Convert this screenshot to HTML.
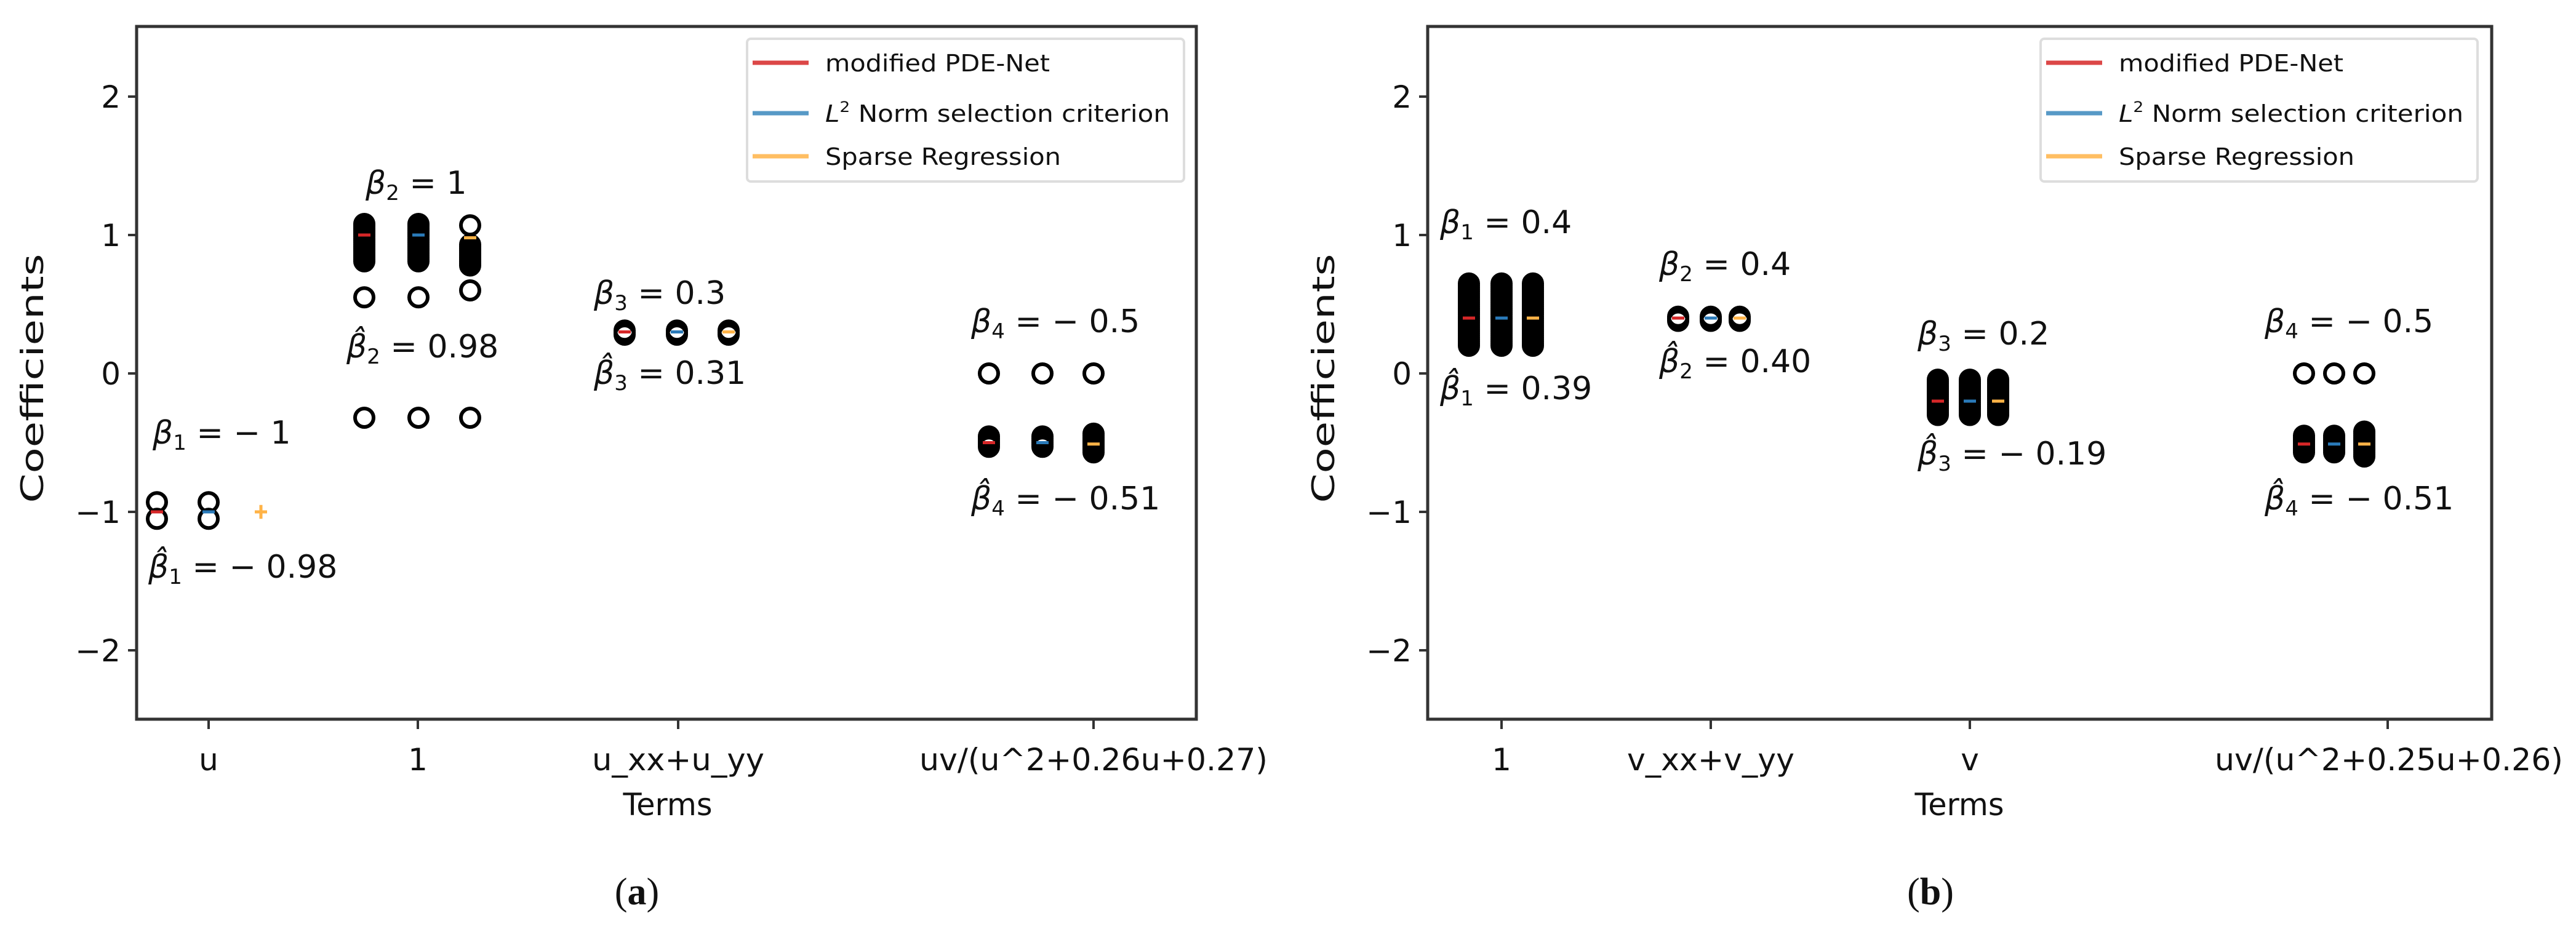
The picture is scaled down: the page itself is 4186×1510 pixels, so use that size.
<!DOCTYPE html>
<html><head><meta charset="utf-8">
<style>
html,body{margin:0;padding:0;background:#fff;}
svg{display:block;}
text{font-family:"DejaVu Sans","Liberation Sans",sans-serif;fill:#111;}
.tk{font-size:50px;}
.an{font-size:52px;}
.lg{font-size:38px;}
.cap{font-family:"Liberation Serif",serif;font-size:62px;}
</style></head>
<body>
<svg id="s" width="4186" height="1510" viewBox="0 0 4186 1510" xmlns="http://www.w3.org/2000/svg">
<rect width="4186" height="1510" fill="#fff"/>
<!-- LEFT PLOT -->
<g id="L">
<rect x="222" y="43" width="1722" height="1126" fill="none" stroke="#333" stroke-width="5"/>
<g stroke="#333" stroke-width="4">
<line x1="208" y1="157" x2="222" y2="157"/><line x1="208" y1="382" x2="222" y2="382"/>
<line x1="208" y1="607" x2="222" y2="607"/><line x1="208" y1="832" x2="222" y2="832"/>
<line x1="208" y1="1057" x2="222" y2="1057"/>
<line x1="339" y1="1169" x2="339" y2="1185"/><line x1="679" y1="1169" x2="679" y2="1185"/>
<line x1="1102" y1="1169" x2="1102" y2="1185"/><line x1="1777" y1="1169" x2="1777" y2="1185"/>
</g>
<g class="tk" text-anchor="end">
<text x="196" y="175">2</text><text x="196" y="400">1</text><text x="196" y="625">0</text>
<text x="196" y="850">−1</text><text x="196" y="1075">−2</text>
</g>
<g class="tk" text-anchor="middle">
<text x="339" y="1252">u</text><text x="679" y="1252">1</text>
<text x="1102" y="1252" textLength="280" lengthAdjust="spacingAndGlyphs">u_xx+u_yy</text>
<text x="1777" y="1252" textLength="566" lengthAdjust="spacingAndGlyphs">uv/(u^2+0.26u+0.27)</text>
<text x="1085" y="1325" textLength="145" lengthAdjust="spacingAndGlyphs">Terms</text>
</g>
<text class="tk" transform="translate(70,615) rotate(-90)" text-anchor="middle" textLength="405" lengthAdjust="spacingAndGlyphs">Coefficients</text>
<rect x="1214" y="63" width="710" height="232" rx="6" fill="#fff" stroke="#ddd" stroke-width="4"/>
<g stroke-width="7">
<line x1="1223" y1="102" x2="1314" y2="102" stroke="#d62728" opacity=".85"/>
<line x1="1223" y1="184" x2="1314" y2="184" stroke="#1f77b4" opacity=".75"/>
<line x1="1223" y1="254" x2="1314" y2="254" stroke="#ffb347" opacity=".85"/>
</g>
<g class="lg">
<text x="1341" y="116" textLength="365" lengthAdjust="spacingAndGlyphs">modified PDE-Net</text>
<text x="1341" y="198" textLength="560" lengthAdjust="spacingAndGlyphs"><tspan font-style="italic">L</tspan><tspan font-size="24" dy="-16">2</tspan><tspan dy="16"> Norm selection criterion</tspan></text>
<text x="1341" y="268" textLength="383" lengthAdjust="spacingAndGlyphs">Sparse Regression</text>
</g>
<g class="an">
<text x="594" y="315"><tspan font-style="italic">β</tspan><tspan font-size="34" dy="10">2</tspan><tspan dy="-10"> = 1</tspan></text>
<text x="563" y="581"><tspan font-style="italic">β̂</tspan><tspan font-size="34" dy="10">2</tspan><tspan dy="-10"> = 0.98</tspan></text>
<text x="965" y="494"><tspan font-style="italic">β</tspan><tspan font-size="34" dy="10">3</tspan><tspan dy="-10"> = 0.3</tspan></text>
<text x="965" y="624"><tspan font-style="italic">β̂</tspan><tspan font-size="34" dy="10">3</tspan><tspan dy="-10"> = 0.31</tspan></text>
<text x="1578" y="540"><tspan font-style="italic">β</tspan><tspan font-size="34" dy="10">4</tspan><tspan dy="-10"> = − 0.5</tspan></text>
<text x="1578" y="828"><tspan font-style="italic">β̂</tspan><tspan font-size="34" dy="10">4</tspan><tspan dy="-10"> = − 0.51</tspan></text>
<text x="248" y="721"><tspan font-style="italic">β</tspan><tspan font-size="34" dy="10">1</tspan><tspan dy="-10"> = − 1</tspan></text>
<text x="241" y="939"><tspan font-style="italic">β̂</tspan><tspan font-size="34" dy="10">1</tspan><tspan dy="-10"> = − 0.98</tspan></text>
</g>
<text class="cap" x="1035" y="1470" text-anchor="middle">(<tspan font-weight="bold">a</tspan>)</text>
</g>
<!-- RIGHT PLOT -->
<g>
<rect x="2320" y="43" width="1729" height="1126" fill="none" stroke="#333" stroke-width="5"/>
<g stroke="#333" stroke-width="4">
<line x1="2306" y1="157" x2="2320" y2="157"/><line x1="2306" y1="382" x2="2320" y2="382"/>
<line x1="2306" y1="607" x2="2320" y2="607"/><line x1="2306" y1="832" x2="2320" y2="832"/>
<line x1="2306" y1="1057" x2="2320" y2="1057"/>
<line x1="2440" y1="1169" x2="2440" y2="1185"/><line x1="2780" y1="1169" x2="2780" y2="1185"/>
<line x1="3201" y1="1169" x2="3201" y2="1185"/><line x1="3880" y1="1169" x2="3880" y2="1185"/>
</g>
<g class="tk" text-anchor="end">
<text x="2294" y="175">2</text><text x="2294" y="400">1</text><text x="2294" y="625">0</text>
<text x="2294" y="850">−1</text><text x="2294" y="1075">−2</text>
</g>
<g class="tk" text-anchor="middle">
<text x="2440" y="1252">1</text>
<text x="2780" y="1252" textLength="272" lengthAdjust="spacingAndGlyphs">v_xx+v_yy</text>
<text x="3201" y="1252">v</text>
<text x="3882" y="1252" textLength="566" lengthAdjust="spacingAndGlyphs">uv/(u^2+0.25u+0.26)</text>
<text x="3184" y="1325" textLength="145" lengthAdjust="spacingAndGlyphs">Terms</text>
</g>
<text class="tk" transform="translate(2168,615) rotate(-90)" text-anchor="middle" textLength="405" lengthAdjust="spacingAndGlyphs">Coefficients</text>
<rect x="3316" y="63" width="710" height="232" rx="6" fill="#fff" stroke="#ddd" stroke-width="4"/>
<g stroke-width="7">
<line x1="3325" y1="102" x2="3416" y2="102" stroke="#d62728" opacity=".85"/>
<line x1="3325" y1="184" x2="3416" y2="184" stroke="#1f77b4" opacity=".75"/>
<line x1="3325" y1="254" x2="3416" y2="254" stroke="#ffb347" opacity=".85"/>
</g>
<g class="lg">
<text x="3443" y="116" textLength="365" lengthAdjust="spacingAndGlyphs">modified PDE-Net</text>
<text x="3443" y="198" textLength="560" lengthAdjust="spacingAndGlyphs"><tspan font-style="italic">L</tspan><tspan font-size="24" dy="-16">2</tspan><tspan dy="16"> Norm selection criterion</tspan></text>
<text x="3443" y="268" textLength="383" lengthAdjust="spacingAndGlyphs">Sparse Regression</text>
</g>
<g class="an">
<text x="2340" y="379"><tspan font-style="italic">β</tspan><tspan font-size="34" dy="10">1</tspan><tspan dy="-10"> = 0.4</tspan></text>
<text x="2340" y="649"><tspan font-style="italic">β̂</tspan><tspan font-size="34" dy="10">1</tspan><tspan dy="-10"> = 0.39</tspan></text>
<text x="2696" y="447"><tspan font-style="italic">β</tspan><tspan font-size="34" dy="10">2</tspan><tspan dy="-10"> = 0.4</tspan></text>
<text x="2696" y="605"><tspan font-style="italic">β̂</tspan><tspan font-size="34" dy="10">2</tspan><tspan dy="-10"> = 0.40</tspan></text>
<text x="3116" y="560"><tspan font-style="italic">β</tspan><tspan font-size="34" dy="10">3</tspan><tspan dy="-10"> = 0.2</tspan></text>
<text x="3116" y="755"><tspan font-style="italic">β̂</tspan><tspan font-size="34" dy="10">3</tspan><tspan dy="-10"> = − 0.19</tspan></text>
<text x="3680" y="540"><tspan font-style="italic">β</tspan><tspan font-size="34" dy="10">4</tspan><tspan dy="-10"> = − 0.5</tspan></text>
<text x="3680" y="828"><tspan font-style="italic">β̂</tspan><tspan font-size="34" dy="10">4</tspan><tspan dy="-10"> = − 0.51</tspan></text>
</g>
<text class="cap" x="3137" y="1470" text-anchor="middle">(<tspan font-weight="bold">b</tspan>)</text>
</g>
<g id="pts"></g>
</svg>
<script>
(function(){
var g=document.getElementById('pts'),NS='http://www.w3.org/2000/svg';
function Y(v){return 607-225*v;}
function c(x,v){var e=document.createElementNS(NS,'circle');e.setAttribute('cx',x);e.setAttribute('cy',Y(v));e.setAttribute('r',15);e.setAttribute('fill','none');e.setAttribute('stroke','#000');e.setAttribute('stroke-width',6);g.appendChild(e);}
function st(x,a,b){for(var v=a;v<=b+1e-9;v+=0.015)c(x,v);}
function m(x,v,col){var e=document.createElementNS(NS,'line');e.setAttribute('x1',x-10);e.setAttribute('x2',x+10);e.setAttribute('y1',Y(v));e.setAttribute('y2',Y(v));e.setAttribute('stroke',col);e.setAttribute('stroke-width',5);g.appendChild(e);}
var R='#d62728',B='#2a7ab9',O='#ffb347';
c(255,-0.93);c(255,-1.05);m(255,-1,R);
c(339,-0.93);c(339,-1.05);m(339,-1,B);
m(424,-1,O);var e=document.createElementNS(NS,'line');e.setAttribute('x1',424);e.setAttribute('x2',424);e.setAttribute('y1',Y(-0.95));e.setAttribute('y2',Y(-1.05));e.setAttribute('stroke',O);e.setAttribute('stroke-width',5);g.appendChild(e);
st(592,0.81,1.09);c(592,0.55);c(592,-0.32);m(592,1.0,R);
st(680,0.81,1.09);c(680,0.55);c(680,-0.32);m(680,1.0,B);
c(764,1.07);st(764,0.78,0.93);c(764,0.6);c(764,-0.32);m(764,0.98,O);
[1015,1100,1184].forEach(function(x,i){st(x,0.28,0.32);m(x,0.3,[R,B,O][i]);});
st(1607,-0.53,-0.45);c(1607,0);m(1607,-0.5,R);
st(1694,-0.53,-0.45);c(1694,0);m(1694,-0.5,B);
st(1777,-0.57,-0.43);c(1777,0);m(1777,-0.51,O);
[2387,2440,2491].forEach(function(x,i){st(x,0.2,0.66);m(x,0.4,[R,B,O][i]);});
[2727,2780,2827].forEach(function(x,i){st(x,0.38,0.42);m(x,0.4,[R,B,O][i]);});
[3149,3201,3247].forEach(function(x,i){st(x,-0.3,-0.04);m(x,-0.2,[R,B,O][i]);});
[3744,3793,3842].forEach(function(x,i){c(x,0);if(i<2)st(x,-0.57,-0.45);else st(x,-0.6,-0.41);m(x,-0.51,[R,B,O][i]);});
})();
</script>
</body></html>
